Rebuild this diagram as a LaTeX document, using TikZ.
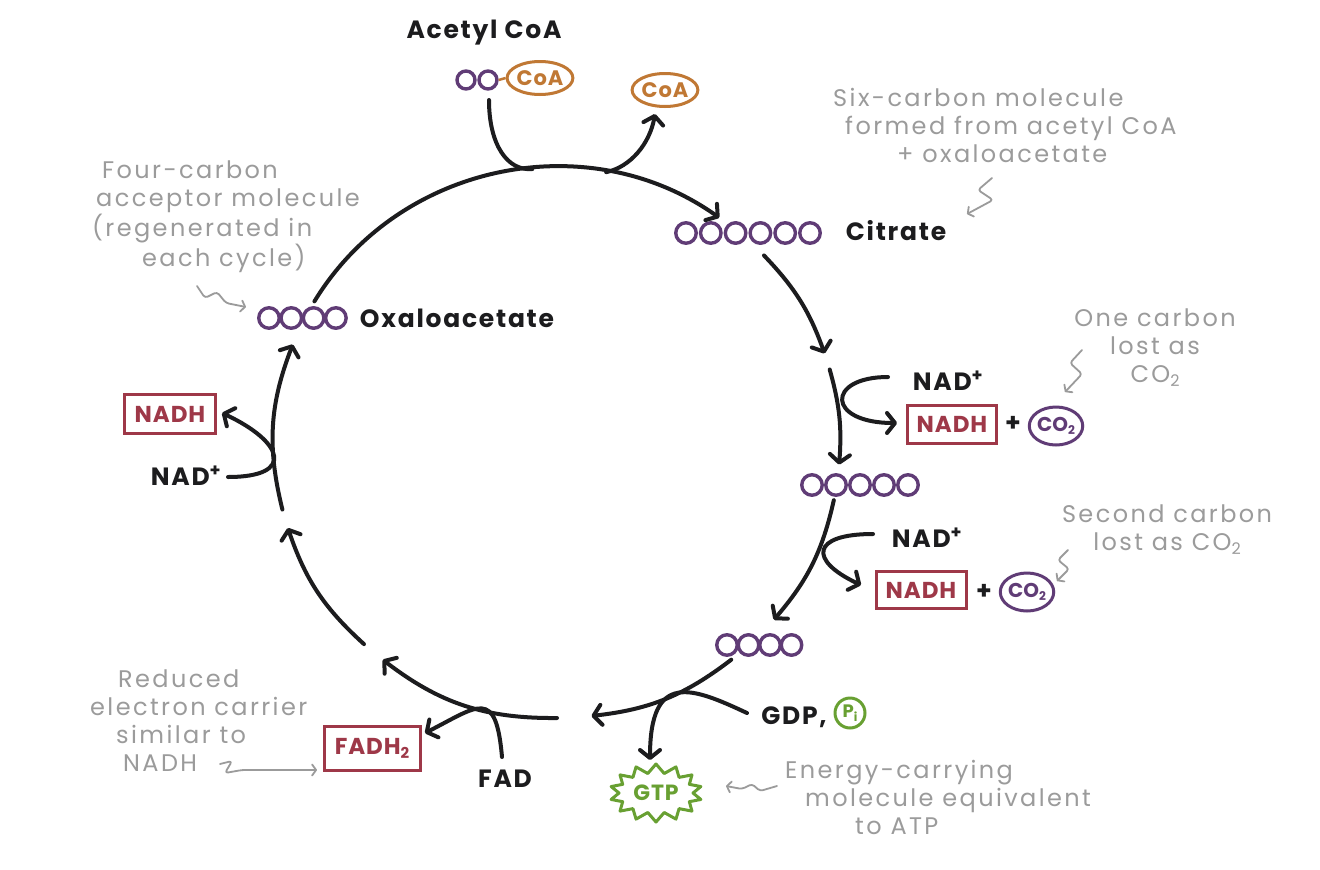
\documentclass[tikz,border=0pt]{standalone}
\usepackage{fontspec}
\setmainfont{Poppins}
\newfontfamily\labfont{Poppins}[LetterSpace=7]
\newfontfamily\notefont{Poppins}[LetterSpace=10]
\newfontfamily\boxfont{Poppins}[LetterSpace=4]
\usetikzlibrary{arrows.meta,shapes.geometric,shapes.symbols,calc}
\definecolor{cblack}{RGB}{28,28,30}
\definecolor{cpurple}{RGB}{96,60,118}
\definecolor{corange}{RGB}{192,120,52}
\definecolor{cred}{RGB}{158,56,72}
\definecolor{cgreen}{RGB}{104,160,50}
\definecolor{cgray}{RGB}{155,155,155}
\newcommand{\ringpt}[2]{\coordinate (#1) at ({557+283*cos(#2)},{-443+275*sin(#2)});}
\newcommand{\lowtwo}[1]{\raisebox{-0.3ex}{\fontsize{#1}{#1}\selectfont 2}}
\tikzset{
  rxn/.style={draw=cblack, line width=4pt, line cap=round, -{Straight Barb[length=8pt,width=20pt,round]}},
  carb/.style={circle, draw=cpurple, line width=3.4pt, minimum size=20.5pt, inner sep=0pt},
  lbl/.style={text=cblack, font=\labfont\fontsize{25}{27}\selectfont\bfseries, inner sep=0pt},
  note/.style={text=cgray, font=\notefont\fontsize{24}{28}\selectfont, inner sep=0pt},
  carrier/.style={rectangle, draw=cred, line width=3pt, text=cred, font=\boxfont\fontsize{23}{24}\selectfont\bfseries, inner sep=0pt},
  coa/.style={ellipse, draw=corange, line width=3pt, text=corange, font=\boxfont\fontsize{21}{22}\selectfont\bfseries, minimum width=63pt, minimum height=33pt, inner sep=0pt},
  co2/.style={ellipse, draw=cpurple, line width=3pt, text=cpurple, font=\fontsize{20}{20}\selectfont\bfseries, minimum width=48pt, minimum height=38pt, inner sep=0pt},
  squig/.style={draw=cgray, line width=1.8pt, rounded corners=3pt, line cap=round, line join=round, -{Straight Barb[length=4pt,width=11pt,round]}},
}
\begin{document}
\begin{tikzpicture}[x=1pt,y=1pt]
\useasboundingbox (0,0) rectangle (1320,-870);
\fill[white] (0,0) rectangle (1320,-870);

% molecules
\foreach \i in {0,1} \node[carb, minimum size=18pt] (ac\i) at ({466+22*\i},-80) {};
\node[coa] (coa1) at (540,-78) {CoA};
\draw[corange, line width=2.5pt] (ac1.east) -- (coa1.west);
\node[coa] (coa2) at (665,-90) {CoA};
\foreach \i in {0,...,5} \node[carb] (cit\i) at ({686+24.8*\i},-233) {};
\foreach \i in {0,...,4} \node[carb] (five\i) at ({812+24*\i},-485) {};
\foreach \i in {0,...,3} \node[carb] (four\i) at ({727+21.5*\i},-645) {};
\foreach \i in {0,...,3} \node[carb] (oxa\i) at ({269+22.3*\i},-318) {};

% labels
\node[lbl] (acetyl) at (484,-33) {Acetyl CoA};
\node[lbl] (citrate) at (896,-231) {Citrate};
\node[lbl] (oxalo) at (457,-318) {Oxaloacetate};
\node[lbl] (nadp1) at (948,-381) {NAD\textsuperscript{+}};
\node[lbl] (nadp2) at (927,-538) {NAD\textsuperscript{+}};
\node[lbl] (nadp3) at (186,-476) {NAD\textsuperscript{+}};
\node[lbl] (fad) at (505,-779) {FAD};
\node[lbl] (gdp) at (794,-717) {GDP,};

% carriers
\node[carrier, minimum width=89pt, minimum height=38pt] (nadh1) at (952,-424) {NADH};
\node[lbl] (plus1) at (1013,-424) {+};
\node[co2] (co2a) at (1056,-426) {CO\lowtwo{12}};
\node[carrier, minimum width=90pt, minimum height=37pt] (nadh2) at (921,-590) {NADH};
\node[lbl] (plus2) at (984,-592) {+};
\node[co2] (co2b) at (1027,-592) {CO\lowtwo{12}};
\node[carrier, minimum width=91pt, minimum height=39pt] (nadh3) at (170,-414) {NADH};
\node[carrier, minimum width=96pt, minimum height=44pt] (fadh2) at (372,-748) {FADH\lowtwo{15}};
\node[circle, draw=cgreen, line width=3pt, text=cgreen, minimum size=30pt, inner sep=0pt, font=\fontsize{18}{18}\selectfont\bfseries] (pi) at (850,-713) {P\raisebox{-0.4ex}{\fontsize{12}{12}\selectfont i}};
\node[starburst, starburst points=14, starburst point height=9pt, random starburst=0, draw=cgreen, line width=3pt, line join=round, text=cgreen, font=\boxfont\fontsize{22}{22}\selectfont\bfseries, minimum width=92pt, minimum height=58pt, inner sep=0pt] (gtp) at (656,-793) {GTP};

% ring points
\ringpt{a1s}{149} \ringpt{top}{95} \ringpt{coaout}{80} \ringpt{a1e}{55}
\ringpt{bs}{43} \ringpt{be}{19}
\ringpt{cs}{15.5} \ringpt{ce}{-4.5}
\ringpt{ds}{-12} \ringpt{de}{-40}
\ringpt{es}{-52} \ringpt{ee}{-83}
\ringpt{fs}{-90} \ringpt{fe}{-128}
\ringpt{gs}{-133} \ringpt{ge}{-162}
\ringpt{hs}{-166} \ringpt{he}{-201}

\draw[rxn] (a1s) to[bend left=47] (a1e);
\draw[rxn] (bs) to[bend left=12] (be);
\draw[rxn] (cs) to[bend left=10] (ce);
\draw[rxn] (ds) to[bend left=14] (de);
\draw[rxn] (es) to[bend left=15.5] (ee);
\draw[rxn] (fs) to[bend left=19] (fe);
\draw[rxn] (gs) to[bend left=14.5] (ge);
\draw[rxn] (hs) to[bend left=17.5] (he);

% acetyl CoA in, CoA out
\draw[cblack, line width=4pt, line cap=round] ([shift={(1,-20)}]ac1.center) to[out=-90,in=185,out distance=45pt,in distance=25pt] (top);
\draw[rxn] (coaout) to[out=12,in=-100,out distance=25pt,in distance=30pt] ([shift={(-10,-24)}]coa2.center);

% branches
\draw[rxn] ([shift={(-60,4)}]nadp1.center) to[out=180,in=180,out distance=62pt,in distance=71pt] ([shift={(-55,1)}]nadh1.center);
\draw[rxn] ([shift={(-54,4)}]nadp2.center) to[out=180,in=155,out distance=62pt,in distance=58pt] ([shift={(-60,5)}]nadh2.center);
\draw[rxn] ([shift={(42,-1)}]nadp3.center) to[out=0,in=-25,out distance=68pt,in distance=68pt] ([shift={(52,1)}]nadh3.center);
\draw[rxn] ([shift={(-3,22)}]fad.center) to[out=95,in=27,out distance=70pt,in distance=60pt] ([shift={(53,15)}]fadh2.center);
\draw[rxn] ([shift={(-47,4)}]gdp.center) to[out=155,in=90,out distance=60pt,in distance=90pt] ([shift={(-6,33)}]gtp.center);

% notes
\node[note, align=left, anchor=north west] (nfour) at (92,-161) {\hspace*{10pt}Four-carbon\\\hspace*{4pt}acceptor molecule\\(regenerated in\\\hspace*{50pt}each cycle)};
\node[note, align=left, anchor=north west] (nsix) at (833,-88) {Six-carbon molecule\\\hspace*{12pt}formed from acetyl CoA\\\hspace*{64pt}+ oxaloacetate};
\node[note, align=center] (none) at (1155,-348) {One carbon\\lost as\\CO\lowtwo{16}};
\node[note, align=center] (nsec) at (1167,-530) {Second carbon\\lost as CO\lowtwo{16}};
\node[note, align=left, anchor=north west] (nred) at (90,-670) {\hspace*{28pt}Reduced\\electron carrier\\\hspace*{26pt}similar to\\\hspace*{33pt}NADH};
\node[note, align=left, anchor=north west] (nene) at (785,-760) {Energy-carrying\\\hspace*{20pt}molecule equivalent\\\hspace*{70pt}to ATP};

% squiggle pointers
\draw[squig] (197,-286) -- (205,-298) -- (217,-292) -- (226,-303) -- (246,-307);
\draw[squig] (992,-178) -- (978,-190) -- (993,-200) -- (967,-214);
\draw[squig] (1082,-350) -- (1070,-363) -- (1082,-374) -- (1065,-392);
\draw[squig] (1068,-550) -- (1058,-560) -- (1069,-569) -- (1057,-581);
\draw[squig] (220,-764) -- (232,-761) -- (225,-773) -- (242,-770) -- (317,-770);
\draw[squig] (777,-786) -- (760,-791) -- (752,-784) -- (742,-789) -- (726,-786);
\end{tikzpicture}
\end{document}
